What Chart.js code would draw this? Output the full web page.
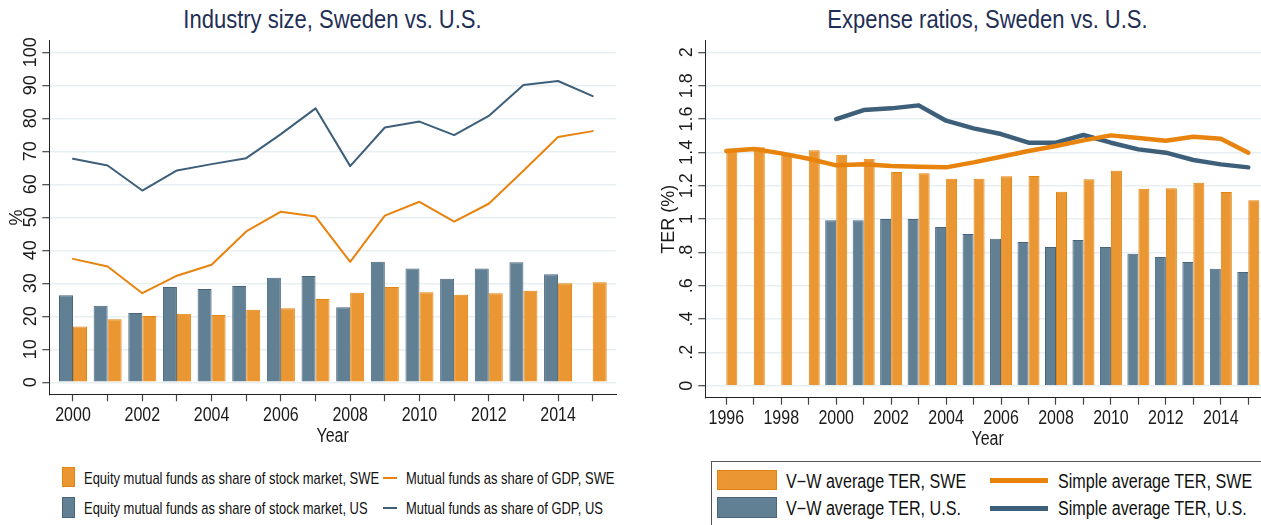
<!DOCTYPE html>
<html>
<head>
<meta charset="utf-8">
<script src="https://cdn.jsdelivr.net/npm/chart.js@4.4.1/dist/chart.umd.min.js"></script>
<style>
  html, body { margin: 0; padding: 0; background: #fff; }
  body { width: 1261px; height: 525px; overflow: hidden; position: relative;
         font-family: 'Liberation Sans', Arial, sans-serif; color: #111; }
  canvas { position: absolute; top: 0; }
  #cLeft { left: 0; }
  #cRight { left: 640px; }
  .title { position: absolute; top: 6px; font-size: 26.5px; line-height: 27px; color: #1f2f55; text-align: center;
           white-space: nowrap; transform: scaleX(0.83); transform-origin: 50% 50%; }
  .box { position: absolute; box-sizing: border-box; }
  .txt { position: absolute; line-height: 20px; white-space: nowrap; transform-origin: 0 50%; }
</style>
</head>
<body>
<div class="title" style="left:49px;width:567px">Industry size, Sweden vs. U.S.</div>
<div class="title" style="left:705px;width:565px">Expense ratios, Sweden vs. U.S.</div>
<canvas id="cLeft" width="640" height="450"></canvas>
<canvas id="cRight" width="630" height="450"></canvas>
<div id="legendLeft"></div>
<div id="legendRight"></div>
<script>
// ---- data: industry size (left panel) ----
const YEARS_L = [2000, 2001, 2002, 2003, 2004, 2005, 2006, 2007, 2008, 2009, 2010, 2011, 2012, 2013, 2014, 2015];
const SWE_EQ_SHARE = [16.9, 19.1, 20.1, 20.8, 20.4, 22.0, 22.4, 25.2, 27.1, 28.9, 27.3, 26.5, 27.0, 27.7, 30.0, 30.3];
const US_EQ_SHARE = [26.4, 23.2, 21.0, 28.9, 28.3, 29.2, 31.7, 32.2, 22.7, 36.5, 34.5, 31.4, 34.5, 36.4, 32.7, null];
const SWE_GDP = [37.4, 35.1, 27.0, 32.3, 35.6, 45.7, 51.7, 50.2, 36.5, 50.5, 54.7, 48.7, 54.1, 64.1, 74.3, 76.1];
const US_GDP = [67.7, 65.7, 58.1, 64.2, 66.1, 67.9, 75.2, 83.0, 65.5, 77.2, 79.0, 74.9, 80.7, 90.1, 91.3, 86.7];
const Y_TICKS_L = [0, 10, 20, 30, 40, 50, 60, 70, 80, 90, 100];
const Y_LABELS_L = ['0', '10', '20', '30', '40', '50', '60', '70', '80', '90', '100'];

// ---- data: expense ratios (right panel) ----
const YEARS_R = [1996, 1997, 1998, 1999, 2000, 2001, 2002, 2003, 2004, 2005, 2006, 2007, 2008, 2009, 2010, 2011, 2012, 2013, 2014, 2015];
const SWE_VW = [1.422, 1.43, 1.39, 1.412, 1.386, 1.362, 1.282, 1.274, 1.242, 1.242, 1.256, 1.258, 1.164, 1.238, 1.29, 1.182, 1.184, 1.218, 1.162, 1.112];
const US_VW = [null, null, null, null, 0.992, 0.992, 1.0, 1.0, 0.952, 0.91, 0.882, 0.862, 0.832, 0.874, 0.832, 0.792, 0.772, 0.742, 0.702, 0.682];
const SWE_SIMPLE = [1.408, 1.42, 1.394, 1.362, 1.322, 1.328, 1.318, 1.314, 1.31, 1.34, 1.374, 1.408, 1.438, 1.472, 1.502, 1.486, 1.47, 1.494, 1.482, 1.398];
const US_SIMPLE = [null, null, null, null, 1.6, 1.654, 1.664, 1.682, 1.59, 1.544, 1.51, 1.458, 1.458, 1.504, 1.458, 1.418, 1.398, 1.354, 1.328, 1.31];
const Y_TICKS_R = [0, 0.2, 0.4, 0.6, 0.8, 1, 1.2, 1.4, 1.6, 1.8, 2];
const Y_LABELS_R = ['0', '.2', '.4', '.6', '.8', '1', '1.2', '1.4', '1.6', '1.8', '2'];

const REGULAR = "'Liberation Sans', Arial, sans-serif";
const NARROW_X = 0.82; // Liberation Sans squeezed ~ Arial Narrow (no narrow face installed)
const ORANGE = '#ea9632', ORANGE_EDGE = '#e3840c', ORANGE_LINE = '#e8830e';
const SLATE = '#628094', SLATE_EDGE = '#47667d', SLATE_LINE = '#3e5f79';
const GRID = '#e7eff2';

const pts = (xs, ys) => xs.map((x, i) => ({ x, y: ys[i] }));

// Stata-style axis text: vertical y labels + title, narrow x labels + "Year"
const stataText = {
  id: 'stataText',
  afterDraw(chart, args, o) {
    const ys = chart.scales.y, xs = chart.scales.x, c = chart.ctx, a = chart.chartArea;
    c.save();
    c.fillStyle = '#1a1a1a';
    c.textAlign = 'center';
    c.textBaseline = 'alphabetic';
    c.font = '18px ' + REGULAR;
    ys.ticks.forEach((t, i) => {
      c.save();
      c.translate(o.tickX, ys.getPixelForValue(t.value));
      c.rotate(-Math.PI / 2);
      c.fillText(o.labels[i], 0, 0);
      c.restore();
    });
    c.save();
    c.translate(o.titleX, (a.top + a.bottom) / 2);
    c.rotate(-Math.PI / 2);
    c.fillText(o.title, 0, 0);
    c.restore();

    c.font = '19.5px ' + REGULAR;
    xs.ticks.forEach((t) => {
      if (t.value % 2 !== 0) return;
      c.save();
      c.translate(xs.getPixelForValue(t.value), o.xLabelY);
      c.scale(NARROW_X, 1);
      c.fillText(String(t.value), 0, 0);
      c.restore();
    });
    c.translate((a.left + a.right) / 2, o.xTitleY);
    c.scale(NARROW_X, 1);
    c.fillText('Year', 0, 0);
    c.restore();
  },
};

function makePanel(id, cfg) {
  new Chart(document.getElementById(id), {
    type: 'bar',
    data: { datasets: cfg.datasets },
    plugins: [stataText],
    options: {
      responsive: false, animation: false,
      layout: { padding: { top: 40.7, right: cfg.padRight, left: 0, bottom: 0 } },
      datasets: { bar: { categoryPercentage: cfg.catPct, barPercentage: 1, borderWidth: 1, borderSkipped: 'start' } },
      plugins: {
        legend: { display: false }, tooltip: { enabled: false },
        stataText: {
          tickX: cfg.tickX, titleX: cfg.titleX, title: cfg.yTitle, labels: cfg.yLabels,
          xLabelY: cfg.xLabelY, xTitleY: cfg.xTitleY,
        },
      },
      scales: {
        x: {
          type: 'linear', min: cfg.xMin, max: cfg.xMax, offset: false,
          afterBuildTicks: (s) => { s.ticks = cfg.years.map((v) => ({ value: v })); },
          afterFit: (s) => { s.height = cfg.xHeight; },
          border: { display: true, color: '#222', width: 1 },
          grid: { offset: false, drawOnChartArea: false, drawTicks: true, tickLength: 7, tickColor: '#444', tickWidth: 1.2 },
          ticks: { display: false },
        },
        y: {
          min: cfg.yMin, max: cfg.yMax,
          afterBuildTicks: (s) => { s.ticks = cfg.yTicks.map((v) => ({ value: v })); },
          afterFit: (s) => { s.width = cfg.yWidth; },
          border: { display: true, color: '#222', width: 1 },
          grid: { color: GRID, lineWidth: 1.4, drawTicks: true, tickLength: 7, tickColor: '#444', tickWidth: 1.2 },
          ticks: { display: false },
        },
      },
    },
  });
}

const barSet = (label, xs, ys, fill, edge) => ({
  type: 'bar', label, data: pts(xs, ys), backgroundColor: fill, borderColor: edge, order: 2,
});
const lineSet = (label, xs, ys, color, w) => ({
  type: 'line', label, data: pts(xs, ys), borderColor: color, borderWidth: w, pointRadius: 0,
  tension: 0, fill: false, borderJoinStyle: 'round', borderCapStyle: 'round', spanGaps: false, order: 1,
});

makePanel('cLeft', {
  years: YEARS_L, xMin: 1999.316, xMax: 2015.672, padRight: 24, catPct: 0.808,
  yMin: -3.64, yMax: 103.5, yTicks: Y_TICKS_L, yLabels: Y_LABELS_L,
  yWidth: 49.3, xHeight: 450 - 394.3, tickX: 36.3, titleX: 21.7, yTitle: '%',
  xLabelY: 420.7, xTitleY: 441.7,
  datasets: [
    barSet('Equity mutual funds as share of stock market, US', YEARS_L, US_EQ_SHARE, SLATE, SLATE_EDGE),
    barSet('Equity mutual funds as share of stock market, SWE', YEARS_L, SWE_EQ_SHARE, ORANGE, ORANGE_EDGE),
    lineSet('Mutual funds as share of GDP, SWE', YEARS_L, SWE_GDP, ORANGE_LINE, 2),
    lineSet('Mutual funds as share of GDP, US', YEARS_L, US_GDP, SLATE_LINE, 2),
  ],
});

makePanel('cRight', {
  years: YEARS_R, xMin: 1995.235, xMax: 2015.79, padRight: 0, catPct: 0.801,
  yMin: -0.072, yMax: 2.07, yTicks: Y_TICKS_R, yLabels: Y_LABELS_R,
  yWidth: 65.3, xHeight: 450 - 397.7, tickX: 51.7, titleX: 34.3, yTitle: 'TER (%)',
  xLabelY: 424, xTitleY: 445,
  datasets: [
    barSet('V\u2212W average TER, U.S.', YEARS_R, US_VW, SLATE, SLATE_EDGE),
    barSet('V\u2212W average TER, SWE', YEARS_R, SWE_VW, ORANGE, ORANGE_EDGE),
    lineSet('Simple average TER, SWE', YEARS_R, SWE_SIMPLE, ORANGE_LINE, 4.5),
    lineSet('Simple average TER, U.S.', YEARS_R, US_SIMPLE, SLATE_LINE, 4.5),
  ],
});

// ---- legends (HTML, Stata layout) ----
function legendItem(host, kind, color, edge, x, y, w, h, label, tx, ty, size, squeeze) {
  const sw = document.createElement('div');
  sw.className = 'box';
  Object.assign(sw.style, { left: x + 'px', top: y + 'px', width: w + 'px', height: h + 'px', background: color });
  if (kind === 'bar') sw.style.border = '1px solid ' + edge;
  host.appendChild(sw);
  const t = document.createElement('div');
  t.className = 'txt';
  Object.assign(t.style, { left: tx + 'px', top: (ty - 10) + 'px', fontSize: size + 'px', transform: `scaleX(${squeeze})` });
  t.textContent = label;
  host.appendChild(t);
}

const lgL = document.getElementById('legendLeft');
legendItem(lgL, 'bar', ORANGE, ORANGE_EDGE, 61.7, 466.7, 13.3, 20.6, 'Equity mutual funds as share of stock market, SWE', 84.3, 478.3, 16.2, 0.8);
legendItem(lgL, 'bar', SLATE, SLATE_EDGE, 61.7, 496.7, 13.3, 21, 'Equity mutual funds as share of stock market, US', 84.3, 508.3, 16.2, 0.8);
legendItem(lgL, 'line', ORANGE_LINE, null, 383, 477, 13.7, 2, 'Mutual funds as share of GDP, SWE', 405.7, 478.3, 16.2, 0.8);
legendItem(lgL, 'line', SLATE_LINE, null, 383, 507, 13.7, 2, 'Mutual funds as share of GDP, US', 405.7, 508.3, 16.2, 0.8);

const lgR = document.getElementById('legendRight');
const frame = document.createElement('div');
frame.className = 'box';
Object.assign(frame.style, { left: '710.7px', top: '461px', width: '600px', height: '100px', border: '1px solid #555' });
lgR.appendChild(frame);
legendItem(lgR, 'bar', ORANGE, ORANGE_EDGE, 717.3, 470, 59.4, 20, 'V\u2212W average TER, SWE', 786, 480.7, 19.5, 0.827);
legendItem(lgR, 'bar', SLATE, SLATE_EDGE, 717.3, 497.3, 59.4, 20.4, 'V\u2212W average TER, U.S.', 786, 508.3, 19.5, 0.827);
legendItem(lgR, 'line', ORANGE_LINE, null, 990, 478, 58.3, 4.5, 'Simple average TER, SWE', 1058.3, 480.7, 19.5, 0.827);
legendItem(lgR, 'line', SLATE_LINE, null, 990, 506, 58.3, 4.5, 'Simple average TER, U.S.', 1058.3, 508.3, 19.5, 0.827);
</script>
</body>
</html>
